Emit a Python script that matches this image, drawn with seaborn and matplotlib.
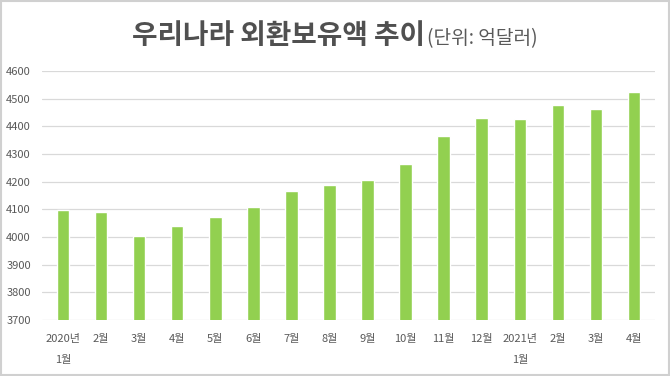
import matplotlib
matplotlib.use("Agg")
import matplotlib.pyplot as plt
import seaborn as sns
import pandas as pd
from matplotlib.patches import Rectangle

months = ["2020년\n1월", "2월", "3월", "4월", "5월", "6월", "7월", "8월", "9월",
          "10월", "11월", "12월", "2021년\n1월", "2월", "3월", "4월"]
reserves = [4096.5, 4091.7, 4002.1, 4039.8, 4073.1, 4107.5, 4165.3, 4188.1, 4205.2,
            4265.1, 4363.8, 4431.0, 4427.3, 4475.9, 4461.5, 4523.7]
yticks = [3700, 3800, 3900, 4000, 4100, 4200, 4300, 4400, 4500, 4600]

sns.set_theme(style="white")
plt.rcParams['font.family'] = ['Noto Sans CJK KR', 'DejaVu Sans']

df = pd.DataFrame({"month": range(len(months)), "value": reserves})

fig = plt.figure(figsize=(6.7, 3.76), dpi=100)
ax = fig.add_axes([42/670, 1 - 320/376, (655-42)/670, (320-71)/376])

sns.barplot(data=df, x="month", y="value", color="#92D050", saturation=1,
            width=0.33, ax=ax, zorder=3)

ax.set_ylim(3700, 4600)
ax.set_xlim(-0.55, len(months) - 0.45)
ax.set_yticks(yticks)
ax.set_yticklabels([str(v) for v in yticks])
ax.set_xticks(range(len(months)))
ax.set_xticklabels(months, linespacing=2.4, va="top")
ax.yaxis.grid(True, color="#d9d9d9", linewidth=0.9, zorder=0)
ax.xaxis.grid(False)
for s in ax.spines.values():
    s.set_visible(False)
ax.tick_params(axis="both", length=0, labelsize=8, colors="#595959")
ax.tick_params(axis="x", pad=10)
ax.tick_params(axis="y", pad=8)
ax.set_xlabel("")
ax.set_ylabel("")

base_y = 1 - 44/376
t1 = fig.text(132/670, base_y, "우리나라 외환보유액 추이", fontsize=20, fontweight="bold",
              color="#505050", ha="left", va="baseline")
fig.canvas.draw()
bb = t1.get_window_extent(renderer=fig.canvas.get_renderer())
x_end = bb.x1 / fig.bbox.width
fig.text(x_end + 2/670, base_y, "(단위: 억달러)", fontsize=13.8, color="#595959",
         ha="left", va="baseline")

fig.patches.append(Rectangle((0.002, 0.003), 0.996, 0.994, transform=fig.transFigure,
                             fill=False, edgecolor="#d0d0d0", linewidth=1.5))

fig.savefig("out.png", dpi=100)
